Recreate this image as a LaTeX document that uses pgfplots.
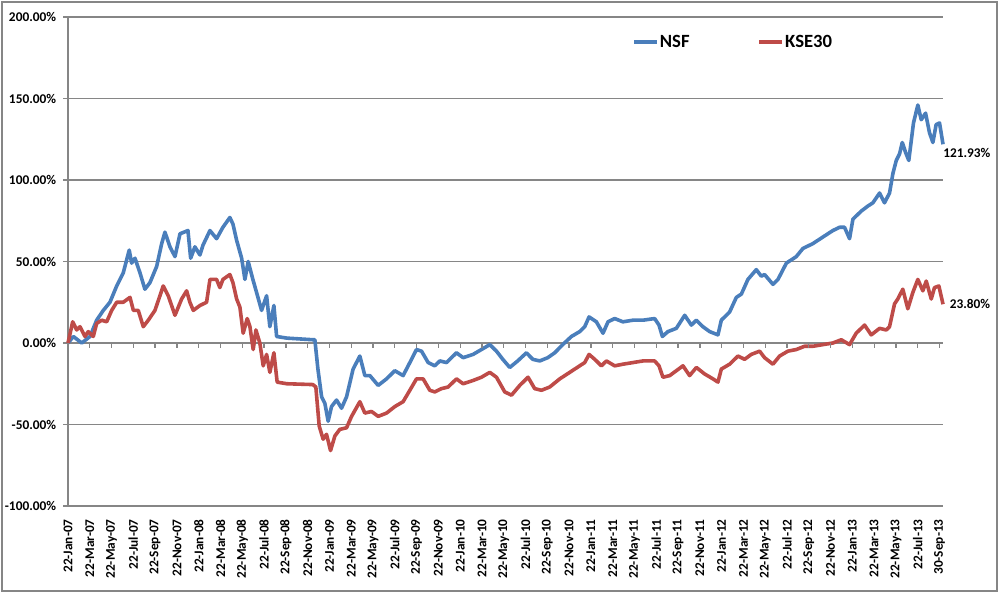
\documentclass[border=0pt]{standalone}
\usepackage{fontspec}
\setmainfont{Carlito}
\usepackage{pgfplots}
\pgfplotsset{compat=1.18}
\definecolor{nsfblue}{HTML}{4A7EBB}
\definecolor{kseRed}{HTML}{BE4B48}
\definecolor{gridgray}{HTML}{868686}
\newcommand{\tf}{\bfseries\fontsize{10}{12}\selectfont}
\begin{document}
\begin{tikzpicture}
\useasboundingbox (0,0) rectangle (751.5pt,445.5pt);
\draw[gridgray,line width=1pt] (1.5pt,2.25pt) rectangle (747.75pt,444pt);
\begin{axis}[
  at={(51pt,66pt)}, anchor=south west,
  scale only axis, width=656.25pt, height=366.75pt,
  xmin=0, xmax=80.32, ymin=-100, ymax=200,
  clip=false,
  axis y line*=left, axis x line*=bottom,
  x axis line style={draw=none},
  y axis line style={gridgray,line width=1pt},
  ytick={-100,-50,0,50,100,150,200},
  yticklabels={-100.00\%,-50.00\%,0.00\%,50.00\%,100.00\%,150.00\%,200.00\%},
  ymajorgrids, grid style={gridgray,line width=1pt},
  ytick style={gridgray,line width=1pt},
  tick align=outside, major tick length=3.75pt,
  xtick={0,2,...,80},
  xticklabels={22-Jan-07,22-Mar-07,22-May-07,22-Jul-07,22-Sep-07,22-Nov-07,
    22-Jan-08,22-Mar-08,22-May-08,22-Jul-08,22-Sep-08,22-Nov-08,
    22-Jan-09,22-Mar-09,22-May-09,22-Jul-09,22-Sep-09,22-Nov-09,
    22-Jan-10,22-Mar-10,22-May-10,22-Jul-10,22-Sep-10,22-Nov-10,
    22-Jan-11,22-Mar-11,22-May-11,22-Jul-11,22-Sep-11,22-Nov-11,
    22-Jan-12,22-Mar-12,22-May-12,22-Jul-12,22-Sep-12,22-Nov-12,
    22-Jan-13,22-Mar-13,22-May-13,22-Jul-13,30-Sep-13},
  xtick style={draw=none},
  xticklabel style={rotate=90, anchor=east, inner sep=0pt, font=\tf},
  xticklabel shift=6pt,
  yticklabel style={inner sep=0pt, font=\tf},
  yticklabel shift=5pt,
  legend style={at={(0.6446,0.949)}, anchor=west, draw=none, fill=none,
    inner sep=0pt, legend columns=2,
    font=\bfseries\fontsize{14}{16}\selectfont,
    nodes={inner sep=1pt},
    /tikz/every even column/.append style={column sep=50pt}},
  legend image code/.code={\draw[#1] (0pt,0pt) -- (17pt,0pt);},
]
\addplot[nsfblue, line width=2.7pt, line join=round] coordinates {
(0,0) (0.49,4) (1.26,0) (2.02,4) (2.63,14) (3.24,20) (3.85,25) (4.47,35)
(5.07,43) (5.62,57) (5.84,49) (6.15,52) (6.61,43) (7.06,33) (7.52,37)
(8.14,47) (8.60,61) (8.90,68) (9.36,59) (9.82,53) (10.28,67) (11.01,69)
(11.26,52) (11.65,59) (12.11,54) (12.39,60) (13.03,69) (13.64,64) (14.22,71)
(14.86,77) (15.14,73) (15.48,63) (15.94,52) (16.24,39) (16.54,50) (16.97,39)
(17.31,31) (17.77,20) (18.23,29) (18.53,10) (18.90,23) (19.15,4) (20.09,3)
(21.28,2.5) (22.48,2) (22.66,2) (22.94,-16) (23.28,-33) (23.58,-37) (23.88,-48)
(24.19,-39) (24.65,-35) (25.11,-40) (25.57,-33) (26.17,-16) (26.79,-8)
(27.25,-20) (27.71,-20) (28.47,-26) (29.24,-22) (30.0,-17) (30.76,-20)
(31.38,-12) (31.99,-4) (32.45,-5) (33.06,-12) (33.67,-14) (34.13,-11)
(34.74,-12) (35.66,-6) (36.27,-9) (37.18,-7) (37.95,-4) (38.72,-1) (39.33,-5)
(39.91,-10) (40.55,-15) (41.28,-11) (42.08,-6) (42.66,-10) (43.30,-11)
(44.04,-9) (44.68,-6) (45.41,-1) (46.21,4) (46.97,7) (47.43,10) (47.83,16)
(48.50,13) (49.11,6) (49.57,13) (50.18,15) (50.94,13) (51.86,14) (52.78,14)
(53.85,15) (54.25,11) (54.56,4) (55.07,7) (55.84,9) (56.61,17) (57.22,11)
(57.68,14) (58.28,10) (58.90,7) (59.66,5) (59.97,14) (60.73,19) (61.35,28)
(61.81,30) (62.41,39) (63.18,45) (63.64,41) (63.94,42) (64.71,36) (65.17,39)
(65.94,49) (66.85,53) (67.46,58) (68.38,61) (69.29,65) (70.21,69) (70.83,71)
(71.28,71) (71.74,64) (72.05,76) (72.83,81) (73.42,84) (73.88,86) (74.50,92)
(74.95,86) (75.41,92) (75.72,104) (76.03,112) (76.33,116) (76.58,123)
(76.88,117) (77.18,112) (77.61,135) (78.01,146) (78.32,137) (78.72,141)
(79.08,129) (79.39,123) (79.69,134) (80.0,135) (80.32,121.93)
};
\addlegendentry{NSF}
\addplot[kseRed, line width=2.7pt, line join=round] coordinates {
(0,0) (0.43,13) (0.80,8) (1.10,10) (1.56,4) (1.86,7) (2.32,4) (2.63,12)
(3.09,14) (3.55,13) (4.01,20) (4.47,25) (5.07,25) (5.69,28) (6.0,20)
(6.45,20) (6.91,10) (7.37,14) (7.98,20) (8.44,29) (8.74,35) (9.20,29)
(9.82,17) (10.43,27) (10.89,32) (11.19,25) (11.50,20) (12.11,23) (12.72,25)
(13.03,39) (13.64,39) (13.94,34) (14.22,39) (14.86,42) (15.14,37) (15.48,27)
(15.78,22) (16.08,6) (16.45,15) (16.70,10) (17.0,-4) (17.25,8) (17.61,0)
(17.92,-14) (18.23,-7) (18.53,-18) (18.90,-6) (19.20,-24) (20.09,-25)
(22.48,-25.5) (22.75,-27) (23.06,-51) (23.42,-59) (23.73,-56) (24.10,-66)
(24.50,-57) (24.95,-53) (25.57,-52) (26.03,-45) (26.79,-36) (27.25,-43)
(27.86,-42) (28.47,-45) (29.24,-43) (30.0,-39) (30.76,-36) (31.38,-29)
(31.99,-22) (32.60,-22) (33.21,-29) (33.67,-30) (34.28,-28) (34.89,-27)
(35.66,-22) (36.27,-25) (37.18,-23) (37.95,-21) (38.72,-18) (39.33,-21)
(40.09,-30) (40.71,-32) (41.47,-26) (42.23,-21) (42.84,-28) (43.46,-29)
(44.22,-27) (45.14,-22) (46.06,-18) (46.97,-14) (47.43,-12) (47.83,-7)
(48.35,-10) (48.96,-14) (49.42,-11) (50.18,-14) (50.94,-13) (51.86,-12)
(52.78,-11) (53.85,-11) (54.25,-14) (54.61,-21) (55.23,-20) (55.84,-17)
(56.45,-14) (57.06,-20) (57.68,-15) (58.44,-19) (59.20,-22) (59.66,-24)
(59.97,-16) (60.73,-13) (61.50,-8) (62.11,-10) (62.72,-7) (63.49,-5)
(63.94,-9) (64.71,-13) (65.32,-8) (66.08,-5) (66.85,-4) (67.61,-2) (68.38,-2)
(69.29,-1) (70.21,0) (70.98,2) (71.74,-1) (72.35,6) (73.12,11) (73.73,5)
(74.50,9) (75.11,8) (75.41,10) (75.87,24) (76.17,27) (76.63,33) (77.09,21)
(77.55,31) (78.01,39) (78.47,32) (78.78,38) (79.24,27) (79.54,34) (79.94,35)
(80.32,23.8)
};
\addlegendentry{KSE30}
\pgfplotsinvokeforeach{0,2,...,80}{\draw[gridgray,line width=1pt] (axis cs:#1,0) -- ++(0pt,-3.5pt);}
\node[anchor=west, inner sep=0pt, yshift=-6.75pt, font=\tf] at (axis cs:80.32,121.93) {121.93\%};
\node[anchor=west, inner sep=0pt, xshift=4.9pt, font=\tf] at (axis cs:80.32,23.8) {23.80\%};
\end{axis}
\end{tikzpicture}
\end{document}
